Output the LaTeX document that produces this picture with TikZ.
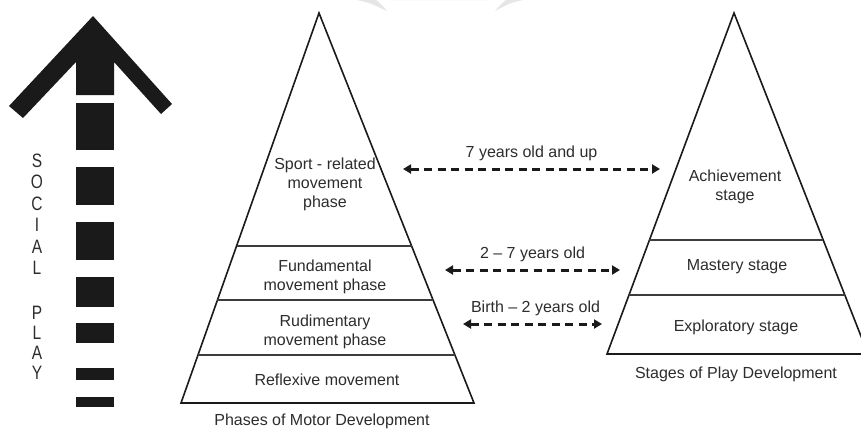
\documentclass[tikz,border=0pt]{standalone}
\usepackage{fontspec}
\setmainfont{Liberation Sans}
\usetikzlibrary{calc,arrows.meta}
\definecolor{ink}{RGB}{26,26,26}
\definecolor{txt}{RGB}{45,45,45}
\definecolor{wmark}{RGB}{230,230,230}
\tikzset{
  pyr/.style={draw=ink, line width=1.6pt, line join=miter},
  sep/.style={draw=ink!85, line width=1.4pt},
  lbl/.style={font=\fontsize{16}{19}\selectfont, text=txt, align=center, inner sep=0pt},
  age/.style={{Triangle[length=8pt,width=9pt]}-{Triangle[length=8pt,width=9pt]}, ink, line width=3pt, dash pattern=on 8pt off 5.5pt},
  blk/.style={fill=ink, draw=none},
  vlet/.style={font=\fontsize{15.5}{19}\selectfont, text=txt, inner sep=0pt, yscale=1.25}
}

\begin{document}
\begin{tikzpicture}[x=1pt, y=-1pt]
  \clip (0,0) rectangle (861,429);
  \fill[white] (0,0) rectangle (861,429);

  % faint mark behind the top
  \fill[wmark] (390,0) arc[start angle=155, end angle=25, x radius=55, y radius=-47] -- cycle;
  \fill[wmark] (357,0) .. controls (370,3) .. (387,11) .. controls (381,4) .. (376,0) -- cycle;
  \fill[wmark] (523,0) .. controls (510,3) .. (495,11) .. controls (501,4) .. (506,0) -- cycle;

  % social play arrow
  \fill[blk] (93,16) -- (172,104) -- (161,114) -- (114,62) -- (114,95) -- (76,95)
    -- (76,62) -- (23,118) -- (9,106) -- cycle;
  \foreach \ya/\yb in {103/150,167/205,222/260,277/307,323/343,368/380,397/407}
    \fill[blk] (76,\ya) rectangle (114,\yb);
  \foreach \ch/\yy [count=\i] in {S/161,O/182,C/204,I/225,A/247,L/268,P/313,L/333,A/353,Y/373}
    \node[vlet] (sp\i) at (37,\yy) {\ch};

  % motor development pyramid
  \coordinate (La) at (319,13);
  \coordinate (Lb) at (181,403);
  \coordinate (Lc) at (474,403);
  \draw[pyr] (La) -- (Lb) -- (Lc) -- cycle;
  \foreach \t in {0.597,0.736,0.877}
    \draw[sep] ($(La)!\t!(Lb)$) -- ($(La)!\t!(Lc)$);
  \node[lbl] (sport) at (325,184) {Sport - related\\movement\\phase};
  \node[lbl] (fund) at (325,277) {Fundamental\\movement phase};
  \node[lbl] (rudi) at (325,332) {Rudimentary\\movement phase};
  \node[lbl] (refl) at (327,380) {Reflexive movement};
  \node[lbl] (motor) at (322,421) {Phases of Motor Development};

  % play development pyramid
  \coordinate (Ra) at (734,13);
  \coordinate (Rb) at (607,354);
  \coordinate (Rc) at (868,354);
  \draw[pyr] (Ra) -- (Rb) -- (Rc) -- cycle;
  \foreach \t in {0.666,0.827}
    \draw[sep] ($(Ra)!\t!(Rb)$) -- ($(Ra)!\t!(Rc)$);
  \node[lbl] (achv) at (735,187) {Achievement\\stage};
  \node[lbl] (mast) at (737,267) {Mastery stage};
  \node[lbl] (expl) at (736,327) {Exploratory stage};
  \node[lbl] (play) at (736,374) {Stages of Play Development};

  % age ranges
  \coordinate (a1l) at (403,169);
  \coordinate (a1r) at (660,169);
  \coordinate (a2l) at (445,270);
  \coordinate (a2r) at (620,270);
  \coordinate (a3l) at (463,324);
  \coordinate (a3r) at (602,324);
  \draw[age] (a1l) -- (a1r) node[lbl, midway, above=7pt] (up7) {7 years old and up};
  \draw[age] (a2l) -- (a2r) node[lbl, midway, above=7pt] (two7) {2 -- 7 years old};
  \draw[age] (a3l) -- (a3r) node[lbl, midway, above=7pt, xshift=3pt] (birth) {Birth -- 2 years old};
\end{tikzpicture}
\end{document}
